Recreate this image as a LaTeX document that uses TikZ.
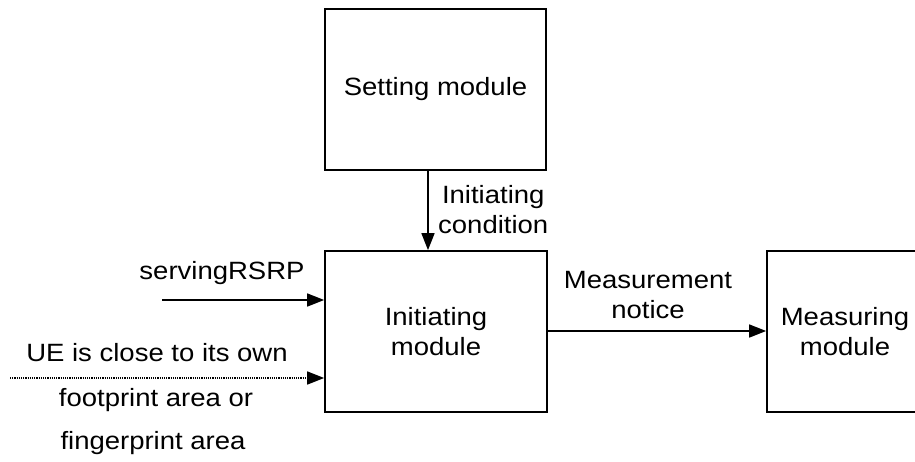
\documentclass[tikz,border=0pt]{standalone}
\usepackage{fontspec}
\setmainfont{Liberation Sans}[FakeStretch=1.1]
\usetikzlibrary{arrows.meta}
\begin{document}
\begin{tikzpicture}[x=1pt,y=-1pt,
  box/.style={draw,line width=1.7pt,inner sep=0pt,align=center,font=\fontsize{25}{30}\selectfont},
  lbl/.style={inner sep=0pt,align=center,font=\fontsize{25}{30}\selectfont},
  arr/.style={line width=1.6pt,-{Triangle[length=17pt,width=13pt]}}]
\useasboundingbox (0,0) rectangle (915,461);
\node[box,minimum width=221pt,minimum height=161pt] (set) at (435.5,89.5) {Setting module};
\node[box,minimum width=222pt,minimum height=161pt] (ini) at (436,331.5) {Initiating\\module};
\node[box,minimum width=156pt,minimum height=161pt] (mea) at (845,331.5) {Measuring\\module};
\coordinate (sr) at (162,300);
\coordinate (ue) at (10,378);
\draw[arr] (set.south -| 428,0) -- (ini.north -| 428,0);
\draw[arr] (sr) -- (sr -| ini.west);
\draw[arr,dash pattern=on 1.2pt off 1pt] (ue) -- (ue -| ini.west);
\draw[arr] (ini.east |- 0,331) -- (mea.west |- 0,331);
\node[lbl,anchor=west] (ic) at (438,210) {Initiating\\condition};
\node[lbl] (srl) at (222,273) {servingRSRP};
\node[lbl] (uel) at (157,353) {UE is close to its own};
\node[lbl] (fp1) at (156,400) {footprint area or};
\node[lbl] (fp2) at (153,443) {fingerprint area};
\node[lbl] (mn) at (648,295) {Measurement\\notice};
\end{tikzpicture}
\end{document}
